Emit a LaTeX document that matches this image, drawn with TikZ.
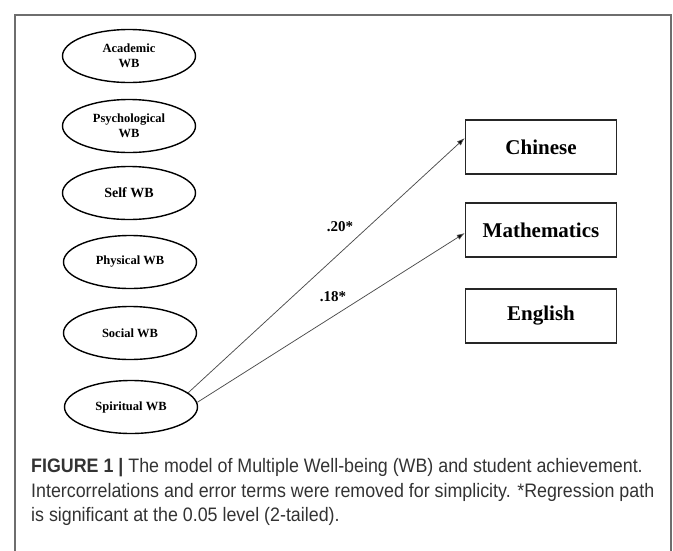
\documentclass[tikz,border=0pt]{standalone}
\usepackage{fontspec}
\setmainfont{Liberation Serif}
\newfontfamily\capfont[FakeStretch=0.915]{Liberation Sans}
\usetikzlibrary{arrows.meta,shapes.geometric}
\definecolor{framegray}{HTML}{6E6E6E}
\definecolor{captext}{HTML}{333333}
\begin{document}
\begin{tikzpicture}[x=1pt,y=-1pt,
  wb/.style={draw=black,line width=1.4pt,ellipse,minimum width=133pt,minimum height=53pt,inner sep=0pt,align=center,font=\bfseries\fontsize{12.5}{14.5}\selectfont},
  outbox/.style={draw=black!85,line width=1.4pt,rectangle,minimum width=151pt,minimum height=54pt,inner sep=0pt,font=\bfseries\fontsize{21}{24}\selectfont},
  arr/.style={draw=black!70,line width=0.75pt,-{Latex[length=8pt,width=5.5pt,fill=black]}},
  coef/.style={font=\bfseries\fontsize{15}{17}\selectfont},
  captxt/.style={anchor=base west,inner sep=0pt,text=captext,font=\capfont\fontsize{19.5}{22}\selectfont}]
\useasboundingbox (0,0) rectangle (673,550);
\draw[framegray,line width=1.3pt] (15,551) -- (15,15) -- (671,15) -- (671,551);
\node[wb] (aca) at (129,56) {Academic\\WB};
\node[wb] (psy) at (129,126) {Psychological\\WB};
\node[wb,font=\bfseries\fontsize{14}{16}\selectfont] (self) at (129,193) {Self WB};
\node[wb] (phy) at (130,262) {Physical WB};
\node[wb] (soc) at (130,333) {Social WB};
\node[wb] (spir) at (131,407) {Spiritual WB};
\node[outbox] (chi) at (541,147) {Chinese};
\node[outbox] (mat) at (541,230) {Mathematics};
\node[outbox] (eng) at (541,316) {English};
\draw[arr] (spir.14) -- ([yshift=9pt]chi.west);
\draw[arr] (spir.4) -- ([yshift=-3pt]mat.west);
\node[coef] (c20) at (340,227) {.20*};
\node[coef] (c18) at (333,297) {.18*};
\node[captxt] (l1) at (31,472) {{\bfseries FIGURE 1 |} The model of Multiple Well-being (WB) and student achievement.};
\node[captxt] (l2) at (31,497) {Intercorrelations and error terms were removed for simplicity. *Regression path};
\node[captxt] (l3) at (31,521) {is significant at the 0.05 level (2-tailed).};
\end{tikzpicture}
\end{document}
